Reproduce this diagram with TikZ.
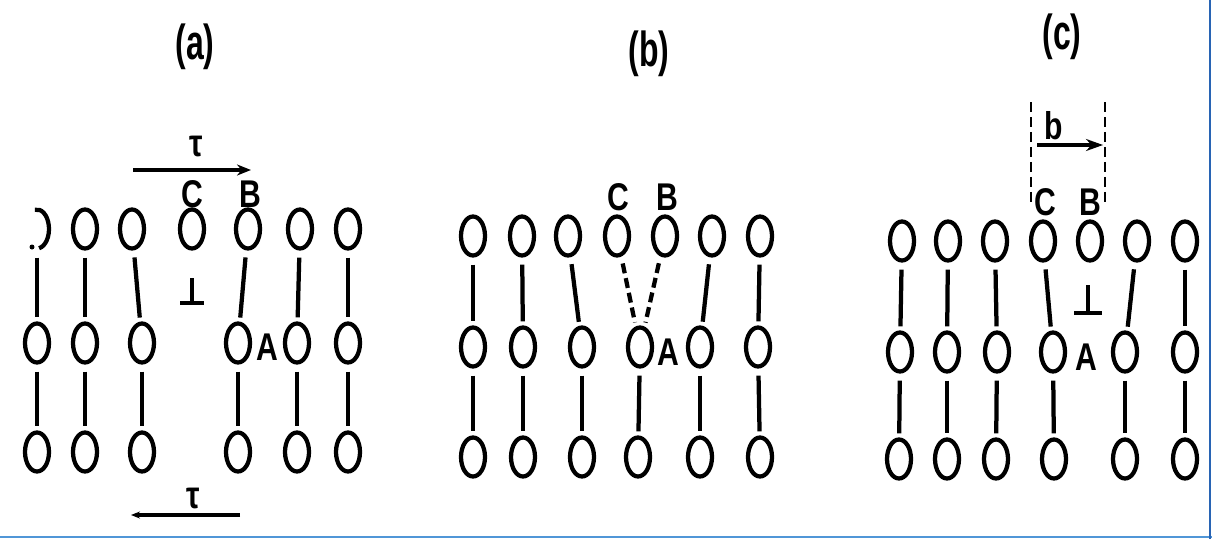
\documentclass[tikz,border=0pt]{standalone}
\usepackage{fontspec}
\usepackage{tikz}
\usetikzlibrary{arrows.meta,shapes.geometric,positioning}

\newfontfamily\lblfont[FakeStretch=0.78]{Liberation Sans}
\newfontfamily\ttlfont[FakeStretch=0.65]{Liberation Sans}

\definecolor{framelight}{RGB}{80,150,215}
\definecolor{framedark}{RGB}{40,100,180}

\tikzset{
  atom/.style={ellipse,draw,line width=0.085cm,minimum width=0.48cm,minimum height=0.78cm,inner sep=0pt},
  bond/.style={line width=0.085cm,shorten <=0.14cm,shorten >=0.08cm},
  brokenbond/.style={bond,dash pattern=on 0.2cm off 0.1cm},
  lbl/.style={font=\lblfont\bfseries\fontsize{22}{22}\selectfont,inner sep=0pt},
  ttl/.style={font=\ttlfont\bfseries\fontsize{28}{28}\selectfont,inner sep=0pt},
  shear/.style={line width=0.07cm,-{Stealth[length=0.28cm,width=0.22cm]}},
  burgers/.style={line width=0.055cm,dash pattern=on 0.2cm off 0.1cm}
}

\begin{document}
\begin{tikzpicture}[x=0.02cm,y=0.02cm]
\useasboundingbox (0,0) rectangle (1212,539);
\fill[white] (0,0) rectangle (1212,539);
\draw[framelight,line width=0.05cm] (0,2) -- (1212,2);
\draw[framedark,line width=0.05cm] (1210,0) -- (1210,539);

% (a) edge dislocation under shear
\node[ttl] (a-title) at (195,492) {(a)};
\node[atom,draw=none] (a-t1) at (37,310) {};
\foreach \x [count=\i from 2] in {85,132,192,248,300,348}
  \node[atom] (a-t\i) at (\x,310) {};
\foreach \x [count=\i] in {37,85,142,238,297,348}
  \node[atom] (a-m\i) at (\x,196) {};
\foreach \x [count=\i] in {37,85,142,238,297,348}
  \node[atom] (a-b\i) at (\x,87) {};
\draw[line width=0.085cm] (a-t1.center) ++(100:0.24cm and 0.39cm) arc[start angle=100,end angle=-80,x radius=0.24cm,y radius=0.39cm];
\fill (32,292) circle (2.5);
\foreach \t/\m in {1/1,2/2,3/3,5/4,6/5,7/6}
  \draw[bond] (a-t\t) -- (a-m\m);
\foreach \i in {1,...,6}
  \draw[bond] (a-m\i) -- (a-b\i);
\draw[line width=0.08cm] (192,261) -- (192,236) (180,236) -- (204,236);
\node[lbl] (a-C) at (192,345) {C};
\node[lbl] (a-B) at (250,345) {B};
\node[lbl] (a-A) at (267,192) {A};
\coordinate (a-sl) at (133,369);
\coordinate (a-sr) at (251,369);
\draw[shear] (a-sl) -- (a-sr);
\node[lbl] (a-tau1) at (196,393) {τ};
\coordinate (a-fl) at (131,24);
\coordinate (a-fr) at (240,24);
\draw[shear,-{Stealth[length=0.18cm,width=0.14cm]}] (a-fr) -- (a-fl);
\node[lbl] (a-tau2) at (193,41) {τ};

% (b) bonds C-A and B-A stretched
\node[ttl] (b-title) at (649,485) {(b)};
\foreach \x [count=\i] in {473,522,568,617,665,712,760}
  \node[atom] (b-t\i) at (\x,303) {};
\foreach \x [count=\i] in {473,523,582,640,700,758}
  \node[atom] (b-m\i) at (\x,192) {};
\foreach \x [count=\i] in {473,523,582,638,700,760}
  \node[atom] (b-b\i) at (\x,82) {};
\foreach \t/\m in {1/1,2/2,3/3,6/5,7/6}
  \draw[bond] (b-t\t) -- (b-m\m);
\draw[brokenbond] (b-t4) -- (b-m4);
\draw[brokenbond] (b-t5) -- (b-m4);
\foreach \i in {1,...,6}
  \draw[bond] (b-m\i) -- (b-b\i);
\node[lbl] (b-C) at (618,342) {C};
\node[lbl] (b-B) at (667,342) {B};
\node[lbl] (b-A) at (668,187) {A};

% (c) dislocation moved on by one step b
\node[ttl] (c-title) at (1062,502) {(c)};
\foreach \x [count=\i] in {902,948,995,1043,1090,1137,1185}
  \node[atom] (c-t\i) at (\x,298) {};
\foreach \x [count=\i] in {900,947,997,1053,1125,1185}
  \node[atom] (c-m\i) at (\x,187) {};
\foreach \x [count=\i] in {899,947,996,1054,1125,1185}
  \node[atom] (c-b\i) at (\x,80) {};
\foreach \t/\m in {1/1,2/2,3/3,4/4,6/5,7/6}
  \draw[bond] (c-t\t) -- (c-m\m);
\foreach \i in {1,...,6}
  \draw[bond] (c-m\i) -- (c-b\i);
\draw[line width=0.08cm] (1088,254) -- (1088,226) (1074,226) -- (1102,226);
\node[lbl] (c-C) at (1045,337) {C};
\node[lbl] (c-B) at (1090,337) {B};
\node[lbl] (c-A) at (1086,182) {A};
\coordinate (c-lt) at (1031,437);
\coordinate (c-lb) at (1031,336);
\coordinate (c-rt) at (1105,437);
\coordinate (c-rb) at (1105,336);
\draw[burgers] (c-lt) -- (c-lb);
\draw[burgers] (c-rt) -- (c-rb);
\coordinate (c-bl) at (1037,394);
\coordinate (c-br) at (1103,394);
\draw[shear,-{Stealth[length=0.34cm,width=0.24cm]}] (c-bl) -- (c-br);
\node[lbl] (c-b) at (1054,413) {b};
\end{tikzpicture}
\end{document}
